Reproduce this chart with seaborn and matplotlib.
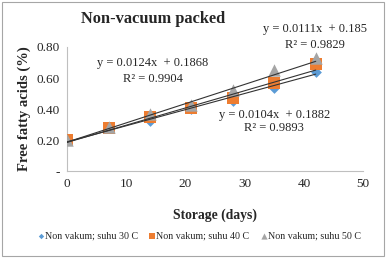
import matplotlib
matplotlib.use("Agg")
import matplotlib.pyplot as plt
import numpy as np
import pandas as pd
import seaborn as sns
from matplotlib.patches import Rectangle

# Storage time (days) and free fatty acid content (%) per temperature
days = [0, 7, 14, 21, 28, 35, 42]
ffa_30 = [0.20, 0.28, 0.32, 0.40, 0.45, 0.535, 0.64]
ffa_40 = [0.20, 0.275, 0.35, 0.405, 0.47, 0.57, 0.69]
ffa_50 = [0.20, 0.285, 0.37, 0.425, 0.52, 0.65, 0.73]

series_names = ["Non vakum; suhu 30 C", "Non vakum; suhu 40 C", "Non vakum; suhu 50 C"]
# linear trendlines as reported on the chart
slopes = [0.0104, 0.0111, 0.0124]
intercepts = [0.1882, 0.185, 0.1868]
r2_values = [0.9893, 0.9829, 0.9904]

COLORS = ["#5B9BD5", "#ED7D31", "#A5A5A5"]
MARKERS = ["D", "s", "^"]
SIZES = [30, 85, 80]

sns.set_style("white")
plt.rcParams["font.family"] = ["Liberation Serif", "DejaVu Serif"]

df = pd.DataFrame({
    "days": days * 3,
    "ffa": ffa_30 + ffa_40 + ffa_50,
    "series": sum([[n] * len(days) for n in series_names], []),
})

fig = plt.figure(figsize=(3.90, 2.64), dpi=100)
ax = fig.add_axes([0.172, 0.352, 0.759, 0.47])

for name, color, marker, size in zip(series_names, COLORS, MARKERS, SIZES):
    sub = df[df["series"] == name]
    sns.scatterplot(data=sub, x="days", y="ffa", color=color, marker=marker,
                    s=size, linewidth=0, ax=ax, label=name, zorder=3)

# trendlines drawn over the markers
xfit = np.array([days[0], days[-1]])
for m, b in zip(slopes, intercepts):
    sns.lineplot(x=xfit, y=m * xfit + b, color="#333333", linewidth=0.8,
                 ax=ax, zorder=4, legend=False)

ax.set_xlim(0, 50)
ax.set_ylim(0, 0.8)
ax.set_xticks([0, 10, 20, 30, 40, 50])
ax.set_yticks([0, 0.2, 0.4, 0.6, 0.8])
ax.set_yticklabels(["-", "0.20", "0.40", "0.60", "0.80"])
ax.tick_params(axis="both", labelsize=9.5, length=3, color="#BFBFBF", pad=2)
for side in ["top", "right"]:
    ax.spines[side].set_visible(False)
for side in ["left", "bottom"]:
    ax.spines[side].set_color("#BFBFBF")
    ax.spines[side].set_linewidth(0.8)

ax.set_xlabel("Storage (days)", fontsize=9.8, fontweight="bold", labelpad=13)
ax.set_ylabel("Free fatty acids (%)", fontsize=10.5, fontweight="bold", labelpad=4)
ax.set_title("Non-vacuum packed", fontsize=11.8, fontweight="bold",
             x=0.29, pad=17)

# trendline equations
eq_kw = dict(fontsize=9, ha="center", va="center", clip_on=False)
ax.text(41.9, 0.915, f"y = {slopes[1]}x  + {intercepts[1]}", **eq_kw)
ax.text(41.9, 0.815, f"R² = {r2_values[1]}", **eq_kw)
ax.text(14.5, 0.70, f"y = {slopes[2]}x  + {intercepts[2]}", **eq_kw)
ax.text(14.5, 0.595, f"R² = {r2_values[2]}", **eq_kw)
ax.text(35.0, 0.36, f"y = {slopes[0]}x  + {intercepts[0]}", **eq_kw)
ax.text(35.0, 0.275, f"R² = {r2_values[0]}", **eq_kw)

handles, labels = ax.get_legend_handles_labels()
ax.legend(handles, labels, loc="center", bbox_to_anchor=(0.51, 0.105),
          bbox_transform=fig.transFigure, ncol=3, frameon=False,
          fontsize=7.2, handletextpad=0.0, handlelength=0.8,
          columnspacing=1.0, markerscale=0.5)

# outer chart border
fig.patches.append(Rectangle((0.006, 0.03), 0.978, 0.962, transform=fig.transFigure,
                             fill=False, edgecolor="#A6A6A6", linewidth=0.8))

fig.savefig("out.png", dpi=100, facecolor="white")
